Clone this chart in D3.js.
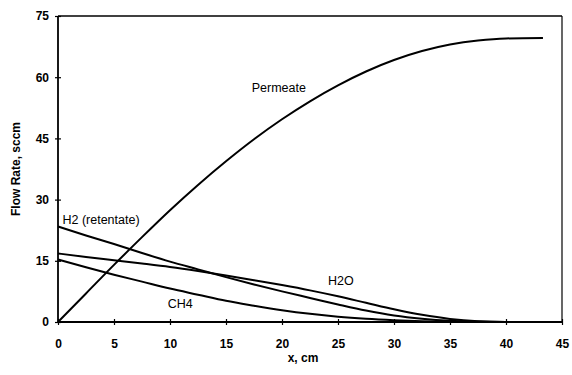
<!DOCTYPE html>
<html>
<head>
<meta charset="utf-8">
<script src="https://cdn.jsdelivr.net/npm/d3@7"></script>
<style>
  body { margin: 0; background: #fff; }
  .chart text { font-family: "Liberation Sans", Arial, sans-serif; fill: #000; }
  .tick-label { font-size: 12px; font-weight: bold; }
  .title { font-size: 12px; font-weight: bold; }
  .note { font-size: 12.5px; }
  .curve { fill: none; stroke: #000; stroke-width: 2; }
</style>
</head>
<body>
<svg class="chart"></svg>
<script>
// DATA /////////////////////////////////
const xs = [0, 2.5, 5, 7.5, 10, 12.5, 15, 17.5, 20, 22.5, 25, 27.5, 30, 32.5, 35, 37.5, 40, 43.3];
const permeate = [0, 7, 14, 20.8, 27.4, 33.6, 39.4, 44.8, 49.7, 54.1, 58.0, 61.4, 64.2, 66.4, 68.0, 69.0, 69.5, 69.6];
const h2 = [23.4, 21.2, 19.1, 16.9, 14.8, 12.9, 11.0, 9.2, 7.5, 5.9, 4.3, 2.8, 1.6, 0.8, 0.3, 0.1, 0.02, 0];
const h2o = [16.8, 15.95, 15.15, 14.35, 13.5, 12.5, 11.4, 10.25, 9.05, 7.75, 6.3, 4.7, 3.1, 1.75, 0.75, 0.2, 0.03, 0];
const ch4 = [15.3, 13.4, 11.6, 9.9, 8.2, 6.7, 5.2, 4.0, 2.9, 2.0, 1.3, 0.8, 0.45, 0.2, 0.08, 0.02, 0, 0];
const xTicks = [0, 5, 10, 15, 20, 25, 30, 35, 40, 45];
const yTicks = [0, 15, 30, 45, 60, 75];
const labels = [
  { text: "Permeate", x: 17.3, y: 56.4 },
  { text: "H2 (retentate)", x: 0.4, y: 24.0 },
  { text: "H2O", x: 24.1, y: 9.1 },
  { text: "CH4", x: 9.8, y: 3.4 }
];

// DEFINITIONS /////////////////////////////////
const W = 572;
const H = 375;
const margin = { top: 16, bottom: 53, right: 10, left: 58 };
const width = W - margin.left - margin.right;
const height = H - margin.top - margin.bottom;

const svg = d3.select(".chart").attr("width", W).attr("height", H);
const g = svg.append("g").attr("transform", `translate(${margin.left}, ${margin.top})`);

const x = d3.scaleLinear().domain([0, 45]).range([0, width]);
const y = d3.scaleLinear().domain([0, 75]).range([height, 0]);

// FRAME & AXES ////////////////////////////////
g.append("line").attr("x1", 0).attr("x2", width).attr("y1", 0).attr("y2", 0)
  .attr("stroke", "#000").attr("stroke-width", 1.5);
g.append("line").attr("x1", width).attr("x2", width).attr("y1", 0).attr("y2", height)
  .attr("stroke", "#000").attr("stroke-width", 1.2);

const xAxis = g.append("g")
  .attr("transform", `translate(0, ${height})`)
  .call(d3.axisBottom(x).tickValues(xTicks).tickSize(3).tickPadding(14));
const yAxis = g.append("g")
  .call(d3.axisLeft(y).tickValues(yTicks).tickSize(3).tickPadding(6));

[xAxis, yAxis].forEach((a) => {
  a.select(".domain").attr("stroke-width", 1.8);
  a.selectAll(".tick line").attr("stroke-width", 1.2);
  a.selectAll(".tick text").attr("class", "tick-label").attr("font-family", null).attr("font-size", null);
});
// ticks cross the axis line
xAxis.selectAll(".tick line").attr("y1", -3);
yAxis.selectAll(".tick line").attr("x1", 3);
xAxis.select(".domain").attr("d", `M0,0H${width}`);
yAxis.select(".domain").attr("d", `M0,${height}V0`);

// axis titles
g.append("text").attr("class", "title")
  .attr("x", width / 2 - 7).attr("y", height + 40)
  .attr("text-anchor", "middle").text("x, cm");
g.append("text").attr("class", "title")
  .attr("transform", `translate(${-38}, ${height / 2}) rotate(-90)`)
  .attr("text-anchor", "middle").text("Flow Rate, sccm");

// CURVES ////////////////////////////////
const line = d3.line()
  .x((d) => x(d[0]))
  .y((d) => y(d[1]))
  .curve(d3.curveMonotoneX);

[permeate, h2, h2o, ch4].forEach((s) => {
  g.append("path").attr("class", "curve").attr("d", line(xs.map((v, i) => [v, s[i]])));
});

g.selectAll(".note").data(labels).enter()
  .append("text").attr("class", "note")
  .attr("x", (d) => x(d.x)).attr("y", (d) => y(d.y))
  .text((d) => d.text);
</script>
</body>
</html>
